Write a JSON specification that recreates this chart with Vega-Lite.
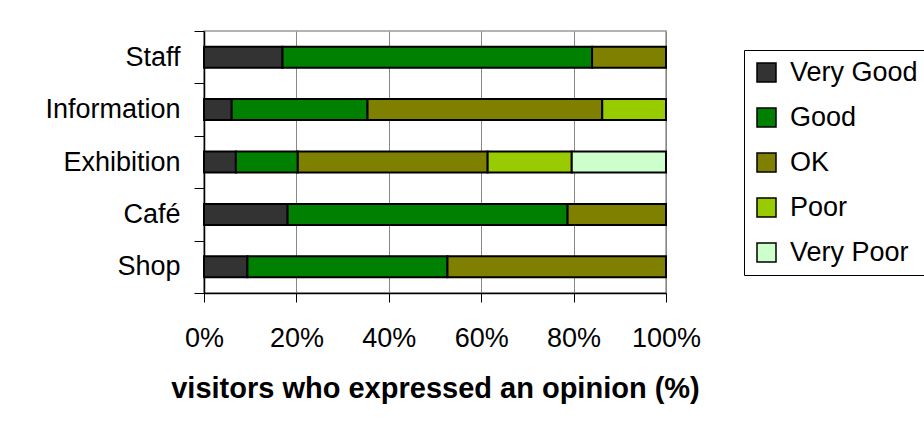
{
  "$schema": "https://vega.github.io/schema/vega-lite/v6.json",
  "width": 462,
  "height": 262,
  "autosize": "none",
  "padding": {"left": 204, "top": 31, "right": 258, "bottom": 135},
  "background": "white",
  "config": {
    "font": "Liberation Sans",
    "view": {"stroke": "#999999", "strokeWidth": 1.5}
  },
  "data": {
    "values": [
      {"area": "Staff", "rating": "Very Good", "rank": 1, "pct": 17},
      {"area": "Staff", "rating": "Good", "rank": 2, "pct": 67},
      {"area": "Staff", "rating": "OK", "rank": 3, "pct": 16},
      {"area": "Information", "rating": "Very Good", "rank": 1, "pct": 6},
      {"area": "Information", "rating": "Good", "rank": 2, "pct": 29.4},
      {"area": "Information", "rating": "OK", "rank": 3, "pct": 50.8},
      {"area": "Information", "rating": "Poor", "rank": 4, "pct": 13.8},
      {"area": "Exhibition", "rating": "Very Good", "rank": 1, "pct": 6.9},
      {"area": "Exhibition", "rating": "Good", "rank": 2, "pct": 13.4},
      {"area": "Exhibition", "rating": "OK", "rank": 3, "pct": 41.1},
      {"area": "Exhibition", "rating": "Poor", "rank": 4, "pct": 18.2},
      {"area": "Exhibition", "rating": "Very Poor", "rank": 5, "pct": 20.4},
      {"area": "Café", "rating": "Very Good", "rank": 1, "pct": 18.1},
      {"area": "Café", "rating": "Good", "rank": 2, "pct": 60.6},
      {"area": "Café", "rating": "OK", "rank": 3, "pct": 21.3},
      {"area": "Shop", "rating": "Very Good", "rank": 1, "pct": 9.4},
      {"area": "Shop", "rating": "Good", "rank": 2, "pct": 43.3},
      {"area": "Shop", "rating": "OK", "rank": 3, "pct": 47.3}
    ]
  },
  "mark": {"type": "bar", "stroke": "black", "strokeWidth": 2, "opacity": 1, "height": {"band": 0.4}},
  "encoding": {
    "y": {
      "field": "area",
      "type": "nominal",
      "sort": ["Staff", "Information", "Exhibition", "Café", "Shop"],
      "scale": {"paddingInner": 0, "paddingOuter": 0},
      "axis": {
        "title": null,
        "tickBand": "extent",
        "tickSize": 10,
        "tickColor": "black",
        "domainColor": "black",
        "domainWidth": 1.5,
        "labelFontSize": 27,
        "labelPadding": 14,
        "labelColor": "black",
        "grid": false
      }
    },
    "x": {
      "field": "pct",
      "type": "quantitative",
      "stack": "normalize",
      "scale": {"domain": [0, 1]},
      "axis": {
        "format": ".0%",
        "values": [0, 0.2, 0.4, 0.6, 0.8, 1],
        "grid": true,
        "gridColor": "#888888",
        "gridWidth": 1,
        "domainColor": "black",
        "domainWidth": 1.5,
        "tickColor": "black",
        "tickSize": 9,
        "labelFontSize": 27,
        "labelColor": "black",
        "labelPadding": 23,
        "labelFlush": false,
        "title": "visitors who expressed an opinion (%)",
        "titleFontSize": 29,
        "titleFontWeight": "bold",
        "titleColor": "black",
        "titlePadding": 23
      }
    },
    "order": {"field": "rank", "type": "quantitative", "sort": "ascending"},
    "color": {
      "field": "rating",
      "type": "nominal",
      "scale": {
        "domain": ["Very Good", "Good", "OK", "Poor", "Very Poor"],
        "range": ["#333333", "#008000", "#808000", "#99CC00", "#CCFFCC"]
      },
      "legend": {
        "orient": "none",
        "legendX": 540,
        "legendY": 19,
        "title": null,
        "symbolType": "square",
        "symbolSize": 361,
        "symbolStrokeColor": "black",
        "symbolStrokeWidth": 1.5,
        "symbolOpacity": 1,
        "labelFontSize": 27,
        "labelColor": "black",
        "labelOffset": 10,
        "rowPadding": 17,
        "padding": 9,
        "strokeColor": "black",
        "fillColor": "white"
      }
    }
  }
}
